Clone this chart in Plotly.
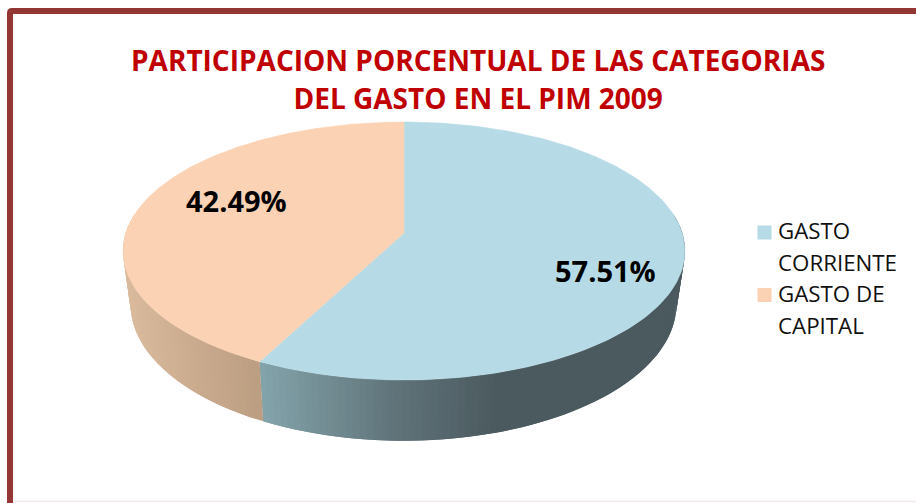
import numpy as np
import plotly.graph_objects as go

categories = ["GASTO CORRIENTE", "GASTO DE CAPITAL"]
legend_lines = ["GASTO<br>CORRIENTE", "GASTO DE<br>CAPITAL"]
values = [57.51, 42.49]
title_lines = ["PARTICIPACION PORCENTUAL DE LAS CATEGORIAS", "DEL GASTO EN EL PIM 2009"]
top_colors = ["#b6dbe6", "#fbd3b4"]

FONT = "Open Sans"
K = 0.1395


def rim(theta, apex_y, a, b, cx=404):
    """Perspective circle; theta is measured clockwise from 12 o'clock."""
    u, v = np.sin(theta), np.cos(theta)
    w = 1 + K * v
    return cx + a * u / w, apex_y - b * v / w


TOP = dict(apex_y=233, a=278.2, b=126.5)
BOT = dict(apex_y=285, a=270.3, b=134.0, cx=403.5)

shares = np.array(values) / sum(values)
edges = np.concatenate([[0], np.cumsum(shares)]) * 2 * np.pi


def side_color(i, x):
    stops_x = [128, 258, 262, 400, 500, 690]
    if i == 0:
        rgb = [np.interp(x, stops_x, c) for c in ([132, 132, 132, 95, 75, 75], [164, 164, 164, 115, 90, 90], [171, 171, 171, 121, 95, 95])]
    else:
        rgb = [np.interp(x, [128, 260], c) for c in ([218, 188], [186, 158], [156, 130])]
    return "rgb(%d,%d,%d)" % tuple(rgb)


fig = go.Figure()

# side wall: only the front half is visible; each strip overlaps the next so no seams show
for i in range(len(values)):
    lo, hi = max(edges[i], np.pi * 0.45), min(edges[i + 1], np.pi * 1.55)
    if hi <= lo:
        continue
    steps = np.linspace(lo, hi, int((hi - lo) * 45) + 2)
    for n, t0 in enumerate(steps[:-1]):
        t1 = steps[min(n + 2, len(steps) - 1)]
        seg = np.linspace(t0, t1, 4)
        xt, yt = rim(seg, **TOP)
        xb, yb = rim(seg[::-1], **BOT)
        col = side_color(i, xt[:2].mean())
        fig.add_trace(go.Scatter(
            x=np.concatenate([xt, xb]), y=np.concatenate([yt, yb]),
            mode="lines", fill="toself", fillcolor=col,
            line=dict(color=col, width=0), hoverinfo="skip", showlegend=False))

# top face
for i, name in enumerate(categories):
    seg = np.linspace(edges[i], edges[i + 1], 200)
    x, y = rim(seg, **TOP)
    fig.add_trace(go.Scatter(
        x=np.concatenate([[404], x, [404]]), y=np.concatenate([[233], y, [233]]),
        mode="lines", fill="toself", fillcolor=top_colors[i],
        line=dict(color=top_colors[i], width=0.5), name=name,
        hovertemplate=name + ": %{customdata}%<extra></extra>",
        customdata=[values[i]] * 202, showlegend=False))

# legend swatches
fig.add_trace(go.Scatter(
    x=[764.5, 764.5], y=[232.5, 295], mode="markers",
    marker=dict(symbol="square", size=14, color=top_colors, line=dict(width=0)),
    hoverinfo="skip", showlegend=False))

annotations = []
for xy, v in zip([(605, 270), (236, 200)], values):
    annotations.append(dict(x=xy[0], y=xy[1], text=f"<b>{v:.2f}%</b>", showarrow=False,
                            font=dict(family=FONT, size=29, color="#000000"),
                            xanchor="center", yanchor="middle"))
for y0, text in zip([213, 276], legend_lines):
    annotations.append(dict(x=776, y=y0,
                            text=f'<span style="font-size:22.3px">{text}</span>',
                            showarrow=False, align="left",
                            font=dict(family=FONT, size=24.6, color="#101010"),
                            xanchor="left", yanchor="top"))
title_html = "<br>".join(f'<span style="font-size:28px"><b>{t}</b></span>' for t in title_lines)
annotations.append(dict(x=478, y=78.5, text=title_html, showarrow=False, align="center",
                        font=dict(family=FONT, size=29.5, color="#c00000"),
                        xanchor="center", yanchor="middle"))

shapes = [
    dict(type="path", layer="below", line=dict(width=0), fillcolor="#943634",
         path="M 7 503 L 7 13 Q 7 8 12 8 L 916 8 L 916 14 L 13 14 L 13 503 Z"),
    dict(type="line", layer="below", x0=13, x1=916, y0=501.5, y1=501.5,
         line=dict(color="#f7e6ec", width=1.5)),
]

fig.update_layout(
    width=916, height=503, margin=dict(l=0, r=0, t=0, b=0, pad=0),
    autosize=False, paper_bgcolor="#ffffff", plot_bgcolor="#ffffff",
    xaxis=dict(range=[0, 916], visible=False, fixedrange=True),
    yaxis=dict(range=[503, 0], visible=False, fixedrange=True),
    showlegend=False, annotations=annotations, shapes=shapes,
)
fig.write_html("out.html", config=dict(displayModeBar=False),
               post_script="document.body.style.margin='0';document.body.style.overflow='hidden';")
